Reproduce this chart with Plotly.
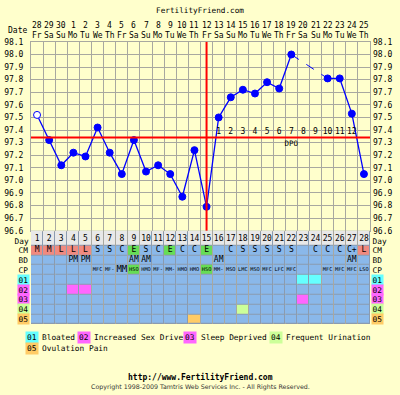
import plotly.graph_objects as go

# ---------------- data ----------------
cycle_days = [1, 2, 3, 4, 5, 6, 7, 8, 9, 10, 11, 12, 13, 14,
              15, 16, 17, 18, 19, 20, 21, 22, 23, 24, 25, 26, 27, 28]
dates = ["28", "29", "30", "1", "2", "3", "4", "5", "6", "7", "8", "9", "10", "11",
         "12", "13", "14", "15", "16", "17", "18", "19", "20", "21", "22", "23", "24", "25"]
weekdays = ["Fr", "Sa", "Su", "Mo", "Tu", "We", "Th", "Fr", "Sa", "Su", "Mo", "Tu", "We", "Th",
            "Fr", "Sa", "Su", "Mo", "Tu", "We", "Th", "Fr", "Sa", "Su", "Mo", "Tu", "We", "Th"]
temps = [97.52, 97.32, 97.12, 97.22, 97.19, 97.42, 97.22, 97.05, 97.32, 97.07,
         97.12, 97.05, 96.87, 97.24, 96.79, 97.50, 97.66, 97.72, 97.69, 97.78,
         97.73, 98.00, None, None, 97.81, 97.81, 97.53, 97.05]
open_days = [1]
coverline = 97.34
ovulation_day = 15
dpo_days = [16, 17, 18, 19, 20, 21, 22, 23, 24, 25, 26, 27]
dpo_labels = ["1", "2", "3", "4", "5", "6", "7", "8", "9", "10", "11", "12"]
temp_ticks = [96.6, 96.7, 96.8, 96.9, 97.0, 97.1, 97.2, 97.3, 97.4, 97.5,
              97.6, 97.7, 97.8, 97.9, 98.0, 98.1]
temp_tick_text = ["96.6", "96.7", "96.8", "96.9", "97.0", "97.1", "97.2", "97.3",
                  "97.4", "97.5", "97.6", "97.7", "97.8", "97.9", "98.0", "98.1"]

cm = ["M", "M", "L", "L", "L", "S", "S", "C", "E", "S", "C", "E", "C", "C",
      "E", "", "C", "S", "S", "S", "S", "S", "", "C", "C", "C", "C+", "L"]
bd = ["", "", "", "PM", "PM", "", "", "", "AM", "AM", "", "", "", "",
      "", "AM", "", "", "", "", "", "", "", "", "", "", "AM", ""]
cp = ["", "", "", "", "", "MFC", "MF-", "MM", "HSO", "HMO", "MF-", "MM-", "HMO", "HMO",
      "HSO", "MM-", "MSO", "LMC", "MSO", "MFC", "LFC", "MFC", "", "", "MFC", "MFC", "MFC", "LSO"]
sym01_days = [23, 24]
sym02_days = [4, 5]
sym03_days = [23]
sym04_days = [18]
sym05_days = [14]
sym_codes = ["01", "02", "03", "04", "05"]
sym_names = ["Bloated", "Increased Sex Drive", "Sleep Deprived", "Frequent Urination", "Ovulation Pain"]

# ---------------- style ----------------
W, H = 400, 395
FONT = "DejaVu Sans Mono"
BG = "#ffffcc"
GRID = "#a8a8a0"
BLUE_CELL = "#8ab8ea"
CELL_GAP = "#8a9bb0"
DAY_CELL = "#e8e8e8"
SALMON = "#f08a80"
GREEN = "#66dd55"
CYAN = "#66ffff"
MAGENTA = "#ff66ff"
LGREEN = "#ccff99"
ORANGE = "#ffcc66"
SYM_COLORS = [CYAN, MAGENTA, MAGENTA, LGREEN, ORANGE]
PALETTE = [BLUE_CELL, DAY_CELL, SALMON, GREEN, CYAN, MAGENTA, LGREEN, ORANGE]


def py(px):
    return 1 - px / H


def pxx(px):
    return px / W


# table rows (layout)
ROWS = ["Day", "CM", "BD", "CP", "01", "02", "03", "04", "05"]
row_h = [1.5, 1, 1, 1, 1, 1, 1, 1, 1]
edges = [0.0]
for h in row_h:
    edges.append(edges[-1] + h)
centers = [(edges[i] + edges[i + 1]) / 2 for i in range(len(ROWS))]

n = len(cycle_days)
z = [[0] * n for _ in ROWS]
z[0] = [1] * n
for i, c in enumerate(cm):
    if c in ("M", "L"):
        z[1][i] = 2
    elif c == "E":
        z[1][i] = 3
for i, c in enumerate(cp):
    if c == "HSO":
        z[3][i] = 3
for r, (dlist, cidx) in enumerate([(sym01_days, 4), (sym02_days, 5), (sym03_days, 5),
                                    (sym04_days, 6), (sym05_days, 7)]):
    for d in dlist:
        z[4 + r][cycle_days.index(d)] = cidx

k = len(PALETTE)
cscale = []
for i, c in enumerate(PALETTE):
    cscale.append([i / k, c])
    cscale.append([(i + 1) / k, c])

fig = go.Figure()

# table
fig.add_trace(go.Heatmap(x=cycle_days, y=edges, z=z, zmin=-0.5, zmax=k - 0.5,
                         colorscale=cscale, showscale=False, xgap=1, ygap=1,
                         hoverinfo="skip", xaxis="x", yaxis="y2"))

# temperature line (solid where consecutive)
marker_fill = ["white" if d in open_days else "#0000ff" for d in cycle_days]
fig.add_trace(go.Scatter(x=cycle_days, y=temps, mode="lines+markers",
                         line=dict(color="#0000ff", width=1.3),
                         marker=dict(size=7, color=marker_fill,
                                     line=dict(color="#0000ff", width=1)),
                         connectgaps=False, hoverinfo="skip", xaxis="x", yaxis="y"))

# dashed bridges over missing temps
i = 0
while i < n:
    if temps[i] is None:
        j = i
        while j < n and temps[j] is None:
            j += 1
        if i > 0 and j < n:
            fig.add_trace(go.Scatter(x=[cycle_days[i - 1], cycle_days[j]],
                                     y=[temps[i - 1], temps[j]], mode="lines",
                                     line=dict(color="#0000ff", width=1, dash="dash"),
                                     hoverinfo="skip", xaxis="x", yaxis="y"))
        i = j
    else:
        i += 1

# dummy for right axis
fig.add_trace(go.Scatter(x=cycle_days, y=temps, mode="markers", opacity=0,
                         hoverinfo="skip", xaxis="x", yaxis="y3"))

# DPO labels
fig.add_trace(go.Scatter(x=dpo_days, y=[coverline + 0.045] * len(dpo_days), mode="text",
                         text=dpo_labels, textfont=dict(family=FONT, size=8, color="black"),
                         hoverinfo="skip", xaxis="x", yaxis="y"))
fig.add_trace(go.Scatter(x=[ovulation_day + 7], y=[coverline - 0.055], mode="text",
                         text=["DPO"], textfont=dict(family=FONT, size=7.5, color="black"),
                         hoverinfo="skip", xaxis="x", yaxis="y"))

# table texts
fig.add_trace(go.Scatter(x=cycle_days, y=[centers[0] + 0.1] * n, mode="text",
                         text=[str(d) for d in cycle_days],
                         textfont=dict(family=FONT, size=8, color="black"),
                         hoverinfo="skip", xaxis="x", yaxis="y2"))
fig.add_trace(go.Scatter(x=cycle_days, y=[centers[1]] * n, mode="text", text=cm,
                         textfont=dict(family=FONT, size=8, color="black"),
                         hoverinfo="skip", xaxis="x", yaxis="y2"))
fig.add_trace(go.Scatter(x=cycle_days, y=[centers[2]] * n, mode="text", text=bd,
                         textfont=dict(family=FONT, size=8, color="black"),
                         hoverinfo="skip", xaxis="x", yaxis="y2"))
fig.add_trace(go.Scatter(x=cycle_days, y=[centers[3]] * n, mode="text", text=cp,
                         textfont=dict(family=FONT, size=[9 if len(c) == 2 else 5.3 for c in cp],
                                       color="black"),
                         hoverinfo="skip", xaxis="x", yaxis="y2"))

# red coverline and ovulation line
fig.add_shape(type="line", xref="x domain", yref="y", x0=0, x1=1, y0=coverline, y1=coverline,
              line=dict(color="#ff0000", width=2), layer="above")
fig.add_shape(type="line", xref="x", yref="y domain", x0=ovulation_day, x1=ovulation_day,
              y0=0, y1=1, line=dict(color="#ff0000", width=2), layer="above")

ann = []
ann.append(dict(text="FertilityFriend.com", x=0.5, y=py(7), xref="paper", yref="paper",
                xanchor="center", yanchor="middle",
                showarrow=False, font=dict(family=FONT, size=7.7, color="black")))
ann.append(dict(text="Date", x=pxx(29), y=py(27), xref="paper", yref="paper", xanchor="right",
                yanchor="middle",
                showarrow=False, font=dict(family=FONT, size=8, color="black")))
for d, dt, wd in zip(cycle_days, dates, weekdays):
    ann.append(dict(text=dt, x=d, y=py(22), xref="x", yref="paper", showarrow=False,
                    xanchor="center", yanchor="middle",
                    font=dict(family=FONT, size=8, color="black")))
    ann.append(dict(text=wd, x=d, y=py(32), xref="x", yref="paper", showarrow=False,
                    xanchor="center", yanchor="middle",
                    font=dict(family=FONT, size=8, color="black")))

# row labels
for r, name in enumerate(ROWS):
    bg = None
    if r >= 4:
        bg = SYM_COLORS[r - 4]
    yy = centers[r] + (0.25 if r == 0 else 0)
    for side in ("left", "right"):
        a = dict(text=name, y=yy, yref="y2", xref="paper", showarrow=False, yanchor="middle",
                 font=dict(family=FONT, size=7.8, color="black"), borderpad=0.5)
        if side == "left":
            a.update(x=pxx(30), xanchor="right")
        else:
            a.update(x=pxx(371), xanchor="left")
        if bg:
            a["bgcolor"] = bg
        ann.append(a)

# symptom legend
legend_pos = [(25, 40, 341), (77, 92, 341), (183, 199, 341), (269, 284, 341), (25, 40, 353)]
for code, name, col, (bx, tx, yy) in zip(sym_codes, sym_names, SYM_COLORS, legend_pos):
    ann.append(dict(text=code, x=pxx(bx), y=py(yy), xref="paper", yref="paper", xanchor="left",
                    yanchor="middle", showarrow=False, bgcolor=col, borderpad=1,
                    font=dict(family=FONT, size=7.8, color="black")))
    ann.append(dict(text=name, x=pxx(tx), y=py(yy), xref="paper", yref="paper", xanchor="left",
                    yanchor="middle", showarrow=False,
                    font=dict(family=FONT, size=7.8, color="black")))

ann.append(dict(text="<b>http://www.FertilityFriend.com</b>", x=0.5, y=py(382), xref="paper",
                yref="paper", xanchor="center", yanchor="middle", showarrow=False,
                font=dict(family=FONT, size=8, color="black")))
ann.append(dict(text="Copyright 1998-2009 Tamtris Web Services Inc. - All Rights Reserved.",
                x=0.5, y=py(392), xref="paper", yref="paper", xanchor="center", yanchor="middle",
                showarrow=False, font=dict(family="DejaVu Sans", size=6.3, color="#333333")))

fig.update_layout(
    width=W, height=H, margin=dict(l=0, r=0, t=0, b=0),
    paper_bgcolor=BG, plot_bgcolor=BG, showlegend=False,
    annotations=ann,
    shapes=list(fig.layout.shapes) + [
        dict(type="rect", xref="x domain", yref="y2 domain", x0=0, x1=1, y0=0, y1=1,
             fillcolor=CELL_GAP, line=dict(width=0), layer="below")],
    xaxis=dict(domain=[pxx(31), pxx(370)], range=[0.5, 28.5], tick0=0.5, dtick=1,
               showgrid=True, gridcolor=GRID, gridwidth=1, showticklabels=False,
               zeroline=False, ticks="", anchor="y", showline=True, linecolor=GRID, mirror=True),
    yaxis=dict(domain=[py(232), py(38.8)], range=[96.6, 98.1], tickvals=temp_ticks,
               ticktext=temp_tick_text, showgrid=True, gridcolor=GRID, zeroline=False,
               ticks="", ticklabelstandoff=5, anchor="x", showline=True, linecolor=GRID, mirror=True,
               tickfont=dict(family=FONT, size=8, color="black")),
    yaxis2=dict(domain=[py(327.5), py(232)], range=[edges[-1], 0], showgrid=False,
                showticklabels=False, zeroline=False, ticks="", anchor="x"),
    yaxis3=dict(overlaying="y", side="right", range=[96.6, 98.1], tickvals=temp_ticks,
                ticktext=temp_tick_text, showgrid=False, zeroline=False, ticks="",
                ticklabelstandoff=2, anchor="x",
                tickfont=dict(family=FONT, size=8, color="black")),
)

fig.write_html("out.html")
